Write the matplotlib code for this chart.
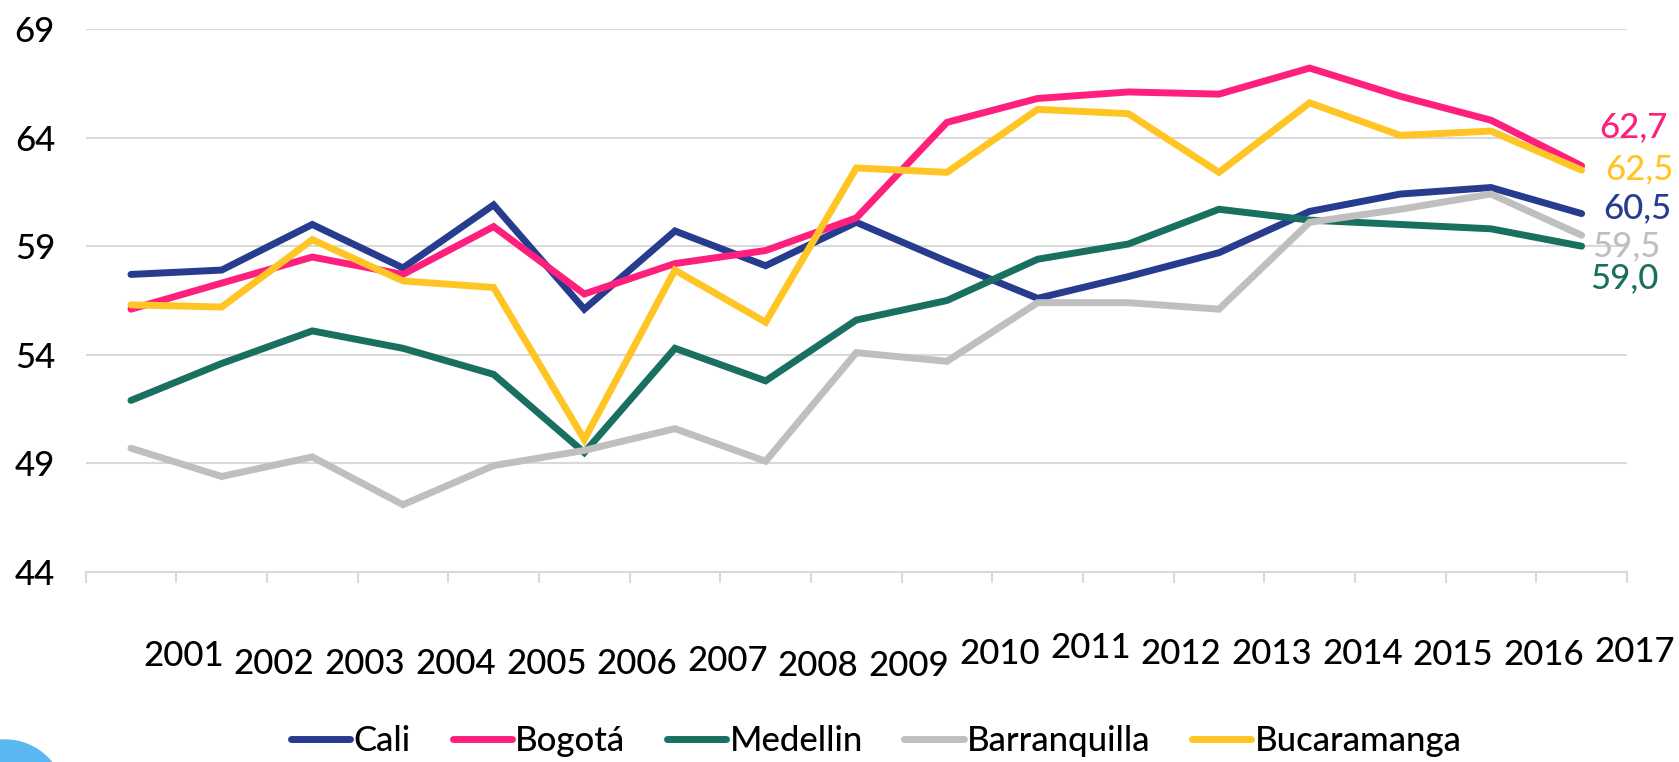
import matplotlib
matplotlib.use("Agg")
import matplotlib.pyplot as plt
import matplotlib.transforms as mtransforms
from matplotlib.patches import Circle

plt.rcParams['font.family'] = ['Lato', 'DejaVu Sans']
plt.rcParams['font.weight'] = 'medium'

years = ['2001', '2002', '2003', '2004', '2005', '2006', '2007', '2008', '2009',
         '2010', '2011', '2012', '2013', '2014', '2015', '2016', '2017']

cali = [57.7, 57.9, 60.0, 58.0, 60.9, 56.1, 59.7, 58.1, 60.1, 58.3, 56.6,
        57.6, 58.7, 60.6, 61.4, 61.7, 60.5]
bogota = [56.1, 57.3, 58.5, 57.7, 59.9, 56.8, 58.2, 58.8, 60.3, 64.7, 65.8,
          66.1, 66.0, 67.2, 65.9, 64.8, 62.7]
medellin = [51.9, 53.6, 55.1, 54.3, 53.1, 49.5, 54.3, 52.8, 55.6, 56.5, 58.4,
            59.1, 60.7, 60.2, 60.0, 59.8, 59.0]
barranquilla = [49.7, 48.4, 49.3, 47.1, 48.9, 49.6, 50.6, 49.1, 54.1, 53.7, 56.4,
                56.4, 56.1, 60.1, 60.7, 61.4, 59.5]
bucaramanga = [56.3, 56.2, 59.3, 57.4, 57.1, 50.1, 57.9, 55.5, 62.6, 62.4, 65.3,
               65.1, 62.4, 65.6, 64.1, 64.3, 62.5]

names = ['Cali', 'Bogotá', 'Medellin', 'Barranquilla', 'Bucaramanga']
series = [cali, bogota, medellin, barranquilla, bucaramanga]
colors = ['#273C8F', '#FF1F7D', '#1A7060', '#BFBFBF', '#FFC525']
end_labels = ['60,5', '62,7', '59,0', '59,5', '62,5']
# pixel offsets of the end labels from the last point
end_off = [(22, -5), (18, -39), (9, 32), (11, 11), (24, -1)]
# small vertical jitter of the year labels (pixels)
year_dy = [-8, 0, 0, 0, 0, 0, -3, 2, 2, -10, -16, -10, -10, -10, -9, -9, -12]

fig = plt.figure(figsize=(16.79, 7.62), dpi=100)
ax = fig.add_axes([0.051, 0.2493, 0.918, 0.7127])

x = list(range(len(years)))
for vals, name, c in zip(series, names, colors):
    ax.plot(x, vals, color=c, lw=5.0, label=name,
            solid_capstyle='round', solid_joinstyle='miter', zorder=3)

ax.set_xlim(-0.5, len(years) - 0.5)
ax.set_ylim(44, 69)
ax.set_yticks([44, 49, 54, 59, 64, 69])
ax.yaxis.grid(True, color='#D9D9D9', lw=1.5)
ax.set_axisbelow(True)
for s in ['top', 'right', 'left']:
    ax.spines[s].set_visible(False)
ax.spines['bottom'].set_color('#D9D9D9')
ax.spines['bottom'].set_linewidth(1.5)

ax.set_xticks([i - 0.5 for i in range(len(years) + 1)])
ax.set_xticklabels([])
ax.tick_params(axis='x', length=8, width=1.5, color='#D9D9D9', direction='out')
ax.tick_params(axis='y', length=0, pad=22, labelsize=25)

trans = mtransforms.blended_transform_factory(ax.transData, ax.transAxes)
for i, (yr, dy) in enumerate(zip(years, year_dy)):
    off = mtransforms.offset_copy(trans, fig=fig, x=0, y=-dy, units='dots')
    ax.text(i + 0.58, -0.17, yr, transform=off, ha='center', va='center',
            fontsize=25, color='black')

for vals, lab, c, (dx, dy) in zip(series, end_labels, colors, end_off):
    ax.annotate(lab, xy=(x[-1], vals[-1]), xytext=(dx, -dy),
                textcoords='offset pixels', ha='left', va='center',
                fontsize=25, color=c, annotation_clip=False)

leg = fig.legend(loc='center', bbox_to_anchor=(0.522, 0.028), ncol=5,
                 frameon=False, fontsize=25, handlelength=1.7,
                 handletextpad=0.1, columnspacing=1.2)

# decorative circle in the lower left corner (figure pixels, origin bottom-left)
fig.patches.append(Circle((5, -38), 60, transform=None, color='#5AB8F0',
                          zorder=0))

fig.savefig('out.png', dpi=100)
